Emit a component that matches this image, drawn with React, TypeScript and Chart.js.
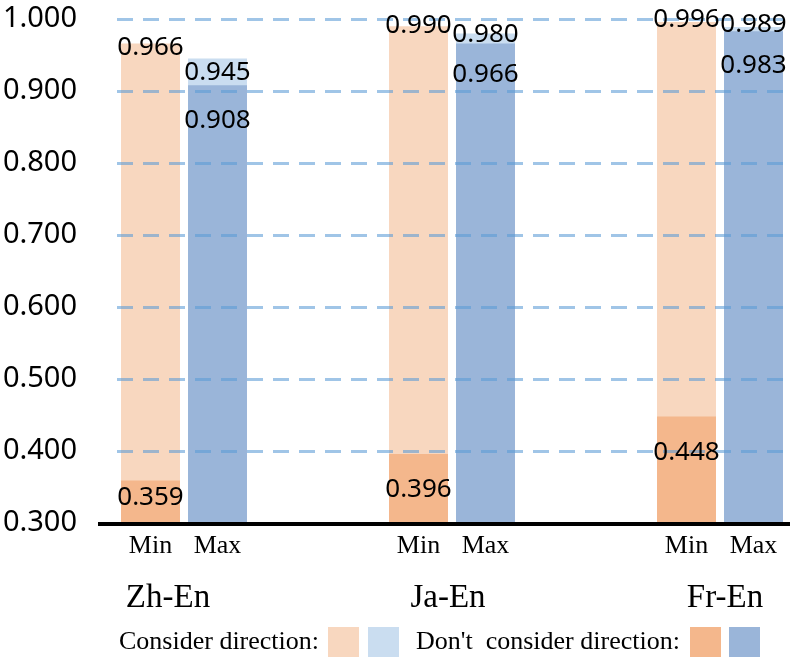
import React, { useEffect, useRef } from "react";
import { Chart, registerables } from "chart.js";

Chart.register(...registerables);

// ---- data ----
const groups = ["Zh-En", "Ja-En", "Fr-En"];
const barNames = ["Min", "Max"];
const considerMin = [0.966, 0.99, 0.996];
const considerMax = [0.945, 0.98, 0.989];
const ignoreMin = [0.359, 0.396, 0.448];
const ignoreMax = [0.908, 0.966, 0.983];
const yMin = 0.3;
const yMax = 1.0;
const yStep = 0.1;
const legendLabels = ["Consider direction:", "Don't  consider direction:"];

// ---- style ----
const C_LIGHT_ORANGE = "#F8D7BF";
const C_ORANGE = "#F4B78C";
const C_LIGHT_BLUE = "#CADDF0";
const C_BLUE = "#9AB5D9";
const GRID = "rgba(91,155,213,0.58)";
const SANS = "'Noto Sans', 'Open Sans', sans-serif";
const SERIF = "'Liberation Serif', 'DejaVu Serif', serif";
// baseline offset of value labels relative to bar top (per group: [min, max])
const lightOffsets = [[11.5, 21.4], [7, 8.6], [5, 5]];
const darkOffsets = [[24.5, 43], [43, 38.5], [43.6, 42]];
const groupLabelShift = [-16, -4, 5];

// build slot-based category axis: Min, Max, spacer, spacer, Min, Max, ...
const slotLabels: string[] = [];
const lightData: (number | null)[] = [];
const darkData: (number | null)[] = [];
const lightColors: string[] = [];
const darkColors: string[] = [];
const slotInfo: ({ g: number; b: number } | null)[] = [];
groups.forEach((_, g) => {
  barNames.forEach((name, b) => {
    slotLabels.push(name);
    lightData.push(b === 0 ? considerMin[g] : considerMax[g]);
    darkData.push(b === 0 ? ignoreMin[g] : ignoreMax[g]);
    lightColors.push(b === 0 ? C_LIGHT_ORANGE : C_LIGHT_BLUE);
    darkColors.push(b === 0 ? C_ORANGE : C_BLUE);
    slotInfo.push({ g, b });
  });
  if (g < groups.length - 1) {
    for (let k = 0; k < 2; k++) {
      slotLabels.push("");
      lightData.push(null);
      darkData.push(null);
      lightColors.push("rgba(0,0,0,0)");
      darkColors.push("rgba(0,0,0,0)");
      slotInfo.push(null);
    }
  }
});

const overlayPlugin = {
  id: "overlay",
  afterDatasetsDraw(chart: any) {
    const ctx = chart.ctx as CanvasRenderingContext2D;
    const area = chart.chartArea;
    const ys = chart.scales.y;
    const xs = chart.scales.x;
    ctx.save();
    // dashed gridlines over bars
    ctx.strokeStyle = GRID;
    ctx.lineWidth = 3;
    ctx.setLineDash([16, 10]);
    for (let v = yMin + yStep; v <= yMax + 1e-9; v += yStep) {
      const y = Math.round(ys.getPixelForValue(v)) + 0.5;
      ctx.beginPath();
      ctx.moveTo(area.left, y);
      ctx.lineTo(area.right, y);
      ctx.stroke();
    }
    ctx.setLineDash([]);
    // base axis line
    const yb = ys.getPixelForValue(yMin) + 1;
    ctx.strokeStyle = "#000";
    ctx.lineWidth = 4;
    ctx.beginPath();
    ctx.moveTo(98, yb);
    ctx.lineTo(790, yb);
    ctx.stroke();

    // value labels
    ctx.fillStyle = "#000";
    ctx.font = `26px ${SANS}`;
    ctx.textAlign = "center";
    ctx.textBaseline = "alphabetic";
    const darkMeta = chart.getDatasetMeta(0);
    const lightMeta = chart.getDatasetMeta(1);
    slotInfo.forEach((info, i) => {
      if (!info) return;
      const lv = lightData[i] as number;
      const dv = darkData[i] as number;
      const le = lightMeta.data[i];
      const de = darkMeta.data[i];
      ctx.fillText(lv.toFixed(3), le.x, le.y + lightOffsets[info.g][info.b]);
      ctx.fillText(dv.toFixed(3), de.x, de.y + darkOffsets[info.g][info.b]);
    });

    // Min / Max labels
    ctx.font = `26px ${SERIF}`;
    slotInfo.forEach((info, i) => {
      if (!info) return;
      ctx.fillText(slotLabels[i], xs.getPixelForValue(i), 553);
    });

    // group labels
    ctx.font = `33px ${SERIF}`;
    groups.forEach((name, g) => {
      const i0 = slotInfo.findIndex((s) => s && s.g === g && s.b === 0);
      const cx = (xs.getPixelForValue(i0) + xs.getPixelForValue(i0 + 1)) / 2;
      ctx.fillText(name, cx + groupLabelShift[g], 607);
    });

    // legend
    ctx.font = `26px ${SERIF}`;
    ctx.textAlign = "left";
    ctx.fillText(legendLabels[0], 119, 649);
    ctx.fillText(legendLabels[1], 416, 649);
    const boxes: [number, string][] = [
      [328, C_LIGHT_ORANGE],
      [368, C_LIGHT_BLUE],
      [690, C_ORANGE],
      [729, C_BLUE],
    ];
    boxes.forEach(([x, c]) => {
      ctx.fillStyle = c;
      ctx.fillRect(x, 627, 31, 30);
    });
    ctx.restore();
  },
};

export default function App() {
  const ref = useRef<HTMLCanvasElement | null>(null);
  useEffect(() => {
    if (!ref.current) return;
    const chart = new Chart(ref.current, {
      type: "bar",
      data: {
        labels: slotLabels,
        datasets: [
          {
            label: "Don't consider direction",
            data: darkData,
            backgroundColor: darkColors,
            grouped: false,
            barPercentage: 0.88,
            categoryPercentage: 1,
          } as any,
          {
            label: "Consider direction",
            data: lightData,
            backgroundColor: lightColors,
            grouped: false,
            barPercentage: 0.88,
            categoryPercentage: 1,
          } as any,
        ],
      },
      options: {
        animation: false,
        responsive: false,
        maintainAspectRatio: false,
        devicePixelRatio: 1,
        layout: { padding: { top: 19, right: 6, left: 0, bottom: 0 } },
        plugins: { legend: { display: false }, tooltip: { enabled: false } },
        scales: {
          x: {
            grid: { display: false, drawTicks: false },
            border: { display: false },
            ticks: { display: false },
            afterFit: (s: any) => {
              s.height = 141;
              s.paddingTop = 0;
              s.paddingBottom = 0;
            },
          },
          y: {
            min: yMin,
            max: yMax,
            grid: { display: false, drawTicks: false },
            border: { display: false },
            ticks: {
              stepSize: yStep,
              padding: 40,
              color: "#000",
              font: { family: SANS, size: 29 },
              callback: (v: any) => Number(v).toFixed(3),
            },
            afterFit: (s: any) => {
              s.width = 117;
              s.paddingTop = 0;
              s.paddingBottom = 0;
            },
          },
        },
      } as any,
      plugins: [overlayPlugin],
    });
    return () => chart.destroy();
  }, []);
  return (
    <canvas
      ref={ref}
      width={793}
      height={664}
      style={{ position: "fixed", left: 0, top: 0, width: 793, height: 664 }}
    />
  );
}
